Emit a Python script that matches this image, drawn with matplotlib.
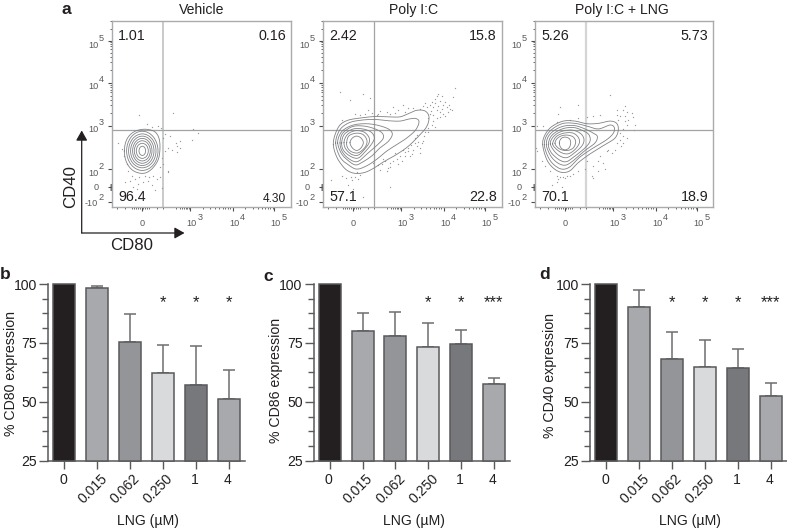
import numpy as np
import matplotlib
matplotlib.use("Agg")
import matplotlib.pyplot as plt
from matplotlib.patches import Ellipse, FancyArrowPatch

plt.rcParams['font.family'] = ['Liberation Sans', 'DejaVu Sans']

# ---------- bar data ----------
doses = ["0", "0.015", "0.062", "0.250", "1", "4"]
cd80 = [100, 98.5, 75.4, 62.4, 57.0, 51.2]
cd80_top = [100, 99.3, 87.1, 74.1, 73.7, 63.4]
cd80_sig = ["", "", "", "*", "*", "*"]
cd86 = [100, 80.0, 77.9, 73.4, 74.4, 57.5]
cd86_top = [100, 87.5, 88.0, 83.5, 80.5, 60.0]
cd86_sig = ["", "", "", "*", "*", "***"]
cd40 = [100, 90.2, 68.3, 64.9, 64.5, 52.5]
cd40_top = [100, 97.3, 79.8, 76.3, 72.3, 58.0]
cd40_sig = ["", "", "*", "*", "*", "***"]
bar_colors = ["#231f20", "#a7a9ac", "#939598", "#d9dadb", "#77787b", "#a7a9ac"]

# ---------- flow panels: quadrant percentages ----------
veh_pct = ["1.01", "0.16", "96.4", "4.30"]
pic_pct = ["2.42", "15.8", "57.1", "22.8"]
lng_pct = ["5.26", "5.73", "70.1", "18.9"]

# Channels: one channel per image pixel from the lower-left frame corner.
# Outlines and events are read in 1/3-pixel units from crops of each panel.
veh_ring_cx, veh_ring_cy = 30.3, 57.3
veh_ring_rx = [15.7, 13.7, 11.7, 9.7, 8.0, 6.0, 3.3]
veh_ring_ry = [20.0, 17.3, 15.0, 12.7, 10.3, 7.7, 4.7]
veh_outer = [(28,150),(35,115),(55,92),(85,83),(115,88),(130,105),(135,135),(130,175),
             (110,205),(85,218),(55,210),(35,185)]
veh_dots = [(72,38),(175,33),(97,68),(110,75),(130,72),(138,80),(235,83),(250,95),(150,98),(165,103),
            (145,110),(195,118),(182,125),(185,135),(232,115),(160,140),(172,148),(185,152),(195,140),
            (150,150),(160,210),(160,215),(10,125),(22,143),(27,165),(35,190),(40,210),(50,225),(60,235),
            (72,228),(90,225),(102,230),(115,225),(125,235),(135,228),(45,240),(30,245),(70,250),(85,245),
            (100,240),(110,255),(120,268),(55,260),(65,265),(142,262),(142,170),(145,190),(135,200)]

pic_rings = [
    [(25,190),(30,160),(45,130),(70,115),(110,108),(150,104),(190,105),(225,105),(250,95),(275,85),
     (300,87),(312,105),(305,135),(280,165),(250,195),(215,220),(180,240),(150,260),(120,275),(90,278),
     (65,268),(45,245),(32,220)],
    [(32,185),(37,160),(50,138),(75,122),(110,115),(150,113),(190,117),(225,118),(250,112),(272,110),
     (282,120),(272,145),(245,170),(215,190),(185,210),(155,235),(125,255),(95,265),(70,252),(50,235),(38,212)],
    [(38,185),(44,160),(58,143),(85,130),(120,126),(155,130),(190,142),(202,158),(190,180),(165,200),
     (140,225),(110,245),(90,252),(65,235),(48,215)],
    [(45,185),(50,160),(63,146),(85,134),(115,133),(145,140),(170,153),(175,170),(158,190),(130,215),
     (105,238),(88,242),(65,228),(50,208)],
    [(50,185),(55,163),(68,150),(90,141),(118,143),(140,153),(148,170),(140,188),(122,210),(102,230),
     (85,230),(65,218),(53,203)],
    [(57,184),(63,165),(75,153),(95,147),(118,152),(132,168),(132,185),(118,205),(100,222),(80,220),(62,203)],
    [(65,184),(72,163),(95,155),(115,160),(126,178),(120,198),(100,215),(80,212),(68,200)],
    [(75,184),(82,170),(95,164),(108,170),(115,184),(108,200),(95,208),(82,200)],
]
pic_dots = [(335,42),(350,40),(385,45),(390,18),(330,50),(345,55),(360,60),(375,80),(370,90),(380,85),
            (365,75),(355,70),(340,72),(320,60),(315,70),(325,75),(335,85),(345,90),(355,95),(360,102),
            (335,110),(325,100),(315,95),(305,75),(295,72),(285,80),(310,110),(320,130),(325,118),(300,150),
            (310,140),(290,185),(295,180),(280,183),(270,185),(310,150),(45,28),(115,35),(135,48),(75,52),
            (205,75),(235,68),(210,92),(195,95),(185,90),(165,88),(155,98),(120,95),(90,95),(130,85),(240,90),
            (50,115),(285,215),(265,205),(250,210),(240,225),(225,225),(215,235),(205,240),(195,245),(180,240),
            (170,250),(165,268),(185,272),(195,258),(175,235),(210,215),(235,205),(250,200),(258,190),(270,170),
            (50,285),(62,292),(78,288),(90,290),(100,295),(82,298),(95,275),(105,282),(70,315),(85,325),(18,298),
            (115,350),(195,320),(145,245),(220,85),(250,78),(265,78),(340,35),(372,68),(350,82),(330,62),(300,62),
            (318,88),(345,105),(330,135),(298,165),(285,200),(275,195),(230,240),(255,225),(218,250),(190,262),
            (160,252),(240,212),(262,218),(275,160),(160,95),(140,92),(105,100)]

lng_rings = [
    [(23,160),(30,130),(50,105),(85,88),(120,88),(155,96),(190,95),(225,88),(245,95),(250,115),(240,140),
     (210,160),(170,185),(130,215),(105,240),(80,245),(55,232),(35,205)],
    [(28,160),(35,132),(55,110),(85,95),(120,95),(155,103),(190,112),(225,100),(238,108),(235,125),(215,145),
     (175,170),(135,198),(105,228),(80,235),(55,220),(38,195)],
    [(34,160),(40,135),(60,115),(88,103),(120,102),(150,112),(175,125),(187,135),(180,155),(150,178),(120,205),
     (95,222),(75,220),(55,205),(42,185)],
    [(40,160),(46,138),(62,122),(88,110),(118,108),(145,118),(162,130),(165,150),(150,170),(120,195),(95,212),
     (75,208),(55,192),(45,178)],
    [(46,158),(52,140),(68,125),(90,117),(115,116),(138,127),(147,145),(140,165),(115,188),(95,200),(75,195),(58,180)],
    [(53,158),(60,140),(72,130),(92,124),(115,125),(130,138),(133,155),(120,175),(100,188),(80,185),(62,172)],
    [(60,156),(66,142),(80,133),(98,131),(115,137),(122,152),(115,170),(98,178),(80,176),(67,168)],
    [(73,155),(78,142),(90,137),(103,142),(107,155),(102,170),(90,176),(78,170)],
]
lng_dots = [(225,8),(75,45),(130,40),(270,42),(245,55),(265,55),(275,60),(290,62),(295,75),(245,68),(255,72),
            (270,72),(250,85),(270,88),(280,85),(300,100),(275,100),(265,112),(298,115),(255,125),(265,135),
            (255,145),(275,140),(245,155),(265,155),(258,165),(195,70),(175,72),(155,75),(130,80),(105,85),(70,65),
            (65,90),(25,103),(5,103),(2,170),(5,180),(20,210),(30,225),(45,240),(65,255),(75,260),(85,258),(95,255),
            (105,255),(115,250),(70,265),(65,275),(50,285),(80,290),(90,262),(130,240),(150,235),(175,225),(190,210),
            (205,215),(210,235),(190,240),(155,210),(215,180),(230,185),(240,175),(220,175),(195,195),(170,255),(175,262)]

# axis channels
x_major = [78, 120.5, 162]
x_major_exp = ["3", "4", "5"]
x_zero = 30
y_major = [38.5, 83, 127, 169]
y_major_exp = ["2", "3", "4", "5"]
y_zero, y_neg = 20, 5
x_cluster = [4.7, 13, 20, 22, 24, 26, 28, 30, 31, 33, 35, 37, 44.7, 51.3]
y_cluster = [17.5, 18.5, 19.5, 20.5, 21.5, 22.5, 23.5]
mantissa = [2, 3, 4, 5, 6, 7, 8, 9]

W, H = 787, 530
fig = plt.figure(figsize=(W / 100, H / 100), dpi=100)
FONT = 10.1
AX = "#58595b"
RING = "#808285"


def ax_px(l, r, t, b):
    return fig.add_axes([l / W, 1 - b / H, (r - l) / W, (b - t) / H])


def smooth(pts, n=12):
    p = np.asarray(pts, float)
    out = []
    for i in range(len(p)):
        p0, p1, p2, p3 = p[i - 1], p[i], p[(i + 1) % len(p)], p[(i + 2) % len(p)]
        for t in np.linspace(0, 1, n, endpoint=False):
            out.append(0.5 * (2 * p1 + (p2 - p0) * t + (2 * p0 - 5 * p1 + 4 * p2 - p3) * t ** 2
                              + (3 * p1 - p0 - 3 * p2 + p3) * t ** 3))
    out.append(out[0])
    return np.array(out)


def chan(pts, a, b):
    p = np.asarray(pts, float)
    return np.column_stack([p[:, 0] / 3 + a, b - p[:, 1] / 3])


def flow_panel(left, right, pct, gate_x, gate_c, gate_w, rings, dots, a, b):
    ax = ax_px(left, right, 21, 207)
    ax.set_xlim(0, right - left)
    ax.set_ylim(0, 186)
    for s in ax.spines.values():
        s.set_color("#a9abae")
        s.set_linewidth(1.0)
    ax.axvline(gate_x, color=gate_c, lw=gate_w, zorder=1)
    ax.axhline(79, color="#a0a2a5", lw=0.9, zorder=1)
    for r in rings:
        c = smooth(chan(r, a, b))
        ax.plot(c[:, 0], c[:, 1], color=RING, lw=0.6, zorder=3)
    d = chan(dots, a, b)
    ax.scatter(d[:, 0], d[:, 1], s=0.9, color="#97999b", linewidths=0, zorder=2)

    ax.set_xticks(x_major + [x_zero])
    ax.set_yticks(y_major + [y_zero, y_neg])
    ax.set_xticklabels([])
    ax.set_yticklabels([])
    ax.tick_params(length=3.2, width=0.8, color="#4d4d4f")
    xm = list(x_cluster)
    for k in range(2):
        xm += [x_major[k] + np.log10(m) * 42 for m in mantissa]
    xm += [x_major[0] - (1 - np.log10(m)) * 26 for m in mantissa if m >= 3]
    ax.set_xticks(xm, minor=True)
    ym = list(y_cluster)
    for k in range(1, 3):
        ym += [y_major[k] + np.log10(m) * 43.6 for m in mantissa]
    ym += [y_major[-1] + np.log10(m) * 43.6 for m in [2, 3]]
    ax.set_yticks(ym, minor=True)
    ax.tick_params(which="minor", length=1.6, width=0.6, color="#4d4d4f")

    gray = "#58595b"
    fs = 6.6
    tx = ax.get_xaxis_transform()
    ty = ax.get_yaxis_transform()
    def at(x, y, s, dx, dy, tr):
        ax.annotate(s, (x, y), xycoords=tr, xytext=(dx, dy), textcoords="offset pixels",
                    ha="center", va="center", fontsize=fs, color=gray)
    at(x_zero, 0, "0", 0, -17, tx)
    for x, e in zip(x_major, x_major_exp):
        at(x, 0, "10", 1.5, -17, tx)
        at(x, 0, e, 10, -10, tx)
    at(0, y_zero, "0", -16, 0, ty)
    at(0, y_neg, "-10", -21, -1, ty)
    at(0, y_neg, "2", -11, 5, ty)
    for y, e in zip(y_major, y_major_exp):
        at(0, y, "10", -19, -4, ty)
        at(0, y, e, -11, 3, ty)

    ax.text(6, 175, pct[0], fontsize=10.3, color="#231f20", ha="left", va="center")
    ax.text(right - left - 5, 175, pct[1], fontsize=10.3, color="#231f20", ha="right", va="center")
    ax.text(6, 10, pct[2], fontsize=10.3, color="#231f20", ha="left", va="center")
    small = pct[3] == "4.30"
    ax.text(right - left - 5, 8 if small else 10, pct[3], fontsize=8.6 if small else 10.3,
            color="#231f20", ha="right", va="center")
    return ax


a1 = flow_panel(112, 291, veh_pct, 51.3, "#c4c6c8", 1.3, [veh_outer], veh_dots, 3, 107)
for rx, ry in zip(veh_ring_rx, veh_ring_ry):
    a1.add_patch(Ellipse((veh_ring_cx, veh_ring_cy), 2 * rx, 2 * ry, fill=False, ec=RING, lw=0.6, zorder=3))
flow_panel(323, 502, pic_pct, 51.3, "#a0a2a5", 0.9, pic_rings, pic_dots, 2, 127)
flow_panel(535, 713, lng_pct, 51, "#d4d5d7", 1.6, lng_rings, lng_dots, 0, 117)


def bar_panel(left, right, first_center, values, tops, sig):
    ax = ax_px(left, right, 284, 460.7)
    step = 32.85
    ax.set_xlim(-(first_center - left) / step, (right - first_center) / step)
    ax.set_ylim(25, 100)
    x = np.arange(len(values))
    v = np.array(values)
    ax.bar(x, v - 25, bottom=25, width=0.67, color=bar_colors, edgecolor=AX, linewidth=1.1, zorder=3, clip_on=False)
    up = np.array(tops) - v
    keep = up > 0
    ax.errorbar(x[keep], v[keep], yerr=[np.zeros(keep.sum()), up[keep]], fmt="none", ecolor="#6d6e71",
                elinewidth=1.1, capsize=4.2, capthick=1.1, zorder=2)
    for s in ("top", "right"):
        ax.spines[s].set_visible(False)
    for s in ("left", "bottom"):
        ax.spines[s].set_color(AX)
        ax.spines[s].set_linewidth(1.1)
    ax.set_yticks([25, 50, 75, 100])
    ax.set_yticks(np.arange(25, 100, 6.25), minor=True)
    ax.tick_params(axis="y", which="major", length=6.5, width=1.0, color=AX, labelsize=FONT, pad=1.5, labelcolor="#231f20")
    ax.tick_params(axis="y", which="minor", length=4, width=1.0, color=AX)
    ax.set_xticks(x)
    ax.set_xticklabels([])
    ax.tick_params(axis="x", length=5.5, width=1.0, color=AX)
    for i, lab in enumerate(doses):
        if len(lab) > 1:
            ax.annotate(lab, (i, 0), xycoords=ax.get_xaxis_transform(), xytext=(3, -11), textcoords="offset pixels",
                        rotation=45, rotation_mode="anchor", ha="right", va="top", fontsize=FONT, color="#231f20")
        else:
            ax.annotate(lab, (i, 0), xycoords=ax.get_xaxis_transform(), xytext=(-1, -19), textcoords="offset pixels",
                        ha="center", va="center", fontsize=FONT, color="#231f20")
    for i, s in enumerate(sig):
        if s:
            ax.text(i, 92.3, s, ha="center", va="center", fontsize=12, color="#231f20", zorder=5)
    return ax


bar_panel(48, 245, 64.3, cd80, cd80_top, cd80_sig)
bar_panel(313.7, 510.3, 329.7, cd86, cd86_top, cd86_sig)
bar_panel(590, 787, 606.3, cd40, cd40_top, cd40_sig)

# overlay for figure-level text and arrows, in image pixels
ov = fig.add_axes([0, 0, 1, 1], facecolor="none")
ov.set_xlim(0, W)
ov.set_ylim(H, 0)
ov.axis("off")
ink = "#231f20"
for s, x in (("Vehicle", 202), ("Poly I:C", 414), ("Poly I:C + LNG", 622)):
    ov.text(x, 10, s, fontsize=10.1, ha="center", va="center", color=ink)
for s, x, y in (("a", 66, 13.5), ("b", 5, 279), ("c", 268, 281), ("d", 545, 279)):
    ov.text(x, y, s, fontsize=12.5, fontweight="bold", ha="center", va="baseline", color=ink)
for s, x, y in (("% CD80 expression", 11, 373), ("% CD86 expression", 276.3, 380), ("% CD40 expression", 549.7, 375)):
    ov.text(x, y, s, fontsize=10.2, rotation=90, ha="center", va="center", color=ink)
for x in (147.7, 414.3, 690):
    ov.text(x, 521.5, "LNG (µM)", fontsize=FONT, ha="center", va="center", color=ink)
ov.text(71, 186.5, "CD40", fontsize=12.1, rotation=90, ha="center", va="center", color=ink)
ov.text(132, 246, "CD80", fontsize=12.1, ha="center", va="center", color=ink)
for end in ((81.7, 130.5), (184.5, 233)):
    ov.add_patch(FancyArrowPatch((81.7, 233), end, arrowstyle="-|>,head_length=4.6,head_width=2.6",
                                 mutation_scale=1.3, color="#231f20", lw=0.9, shrinkA=0, shrinkB=0))

fig.savefig("out.png", dpi=100, facecolor="white")
